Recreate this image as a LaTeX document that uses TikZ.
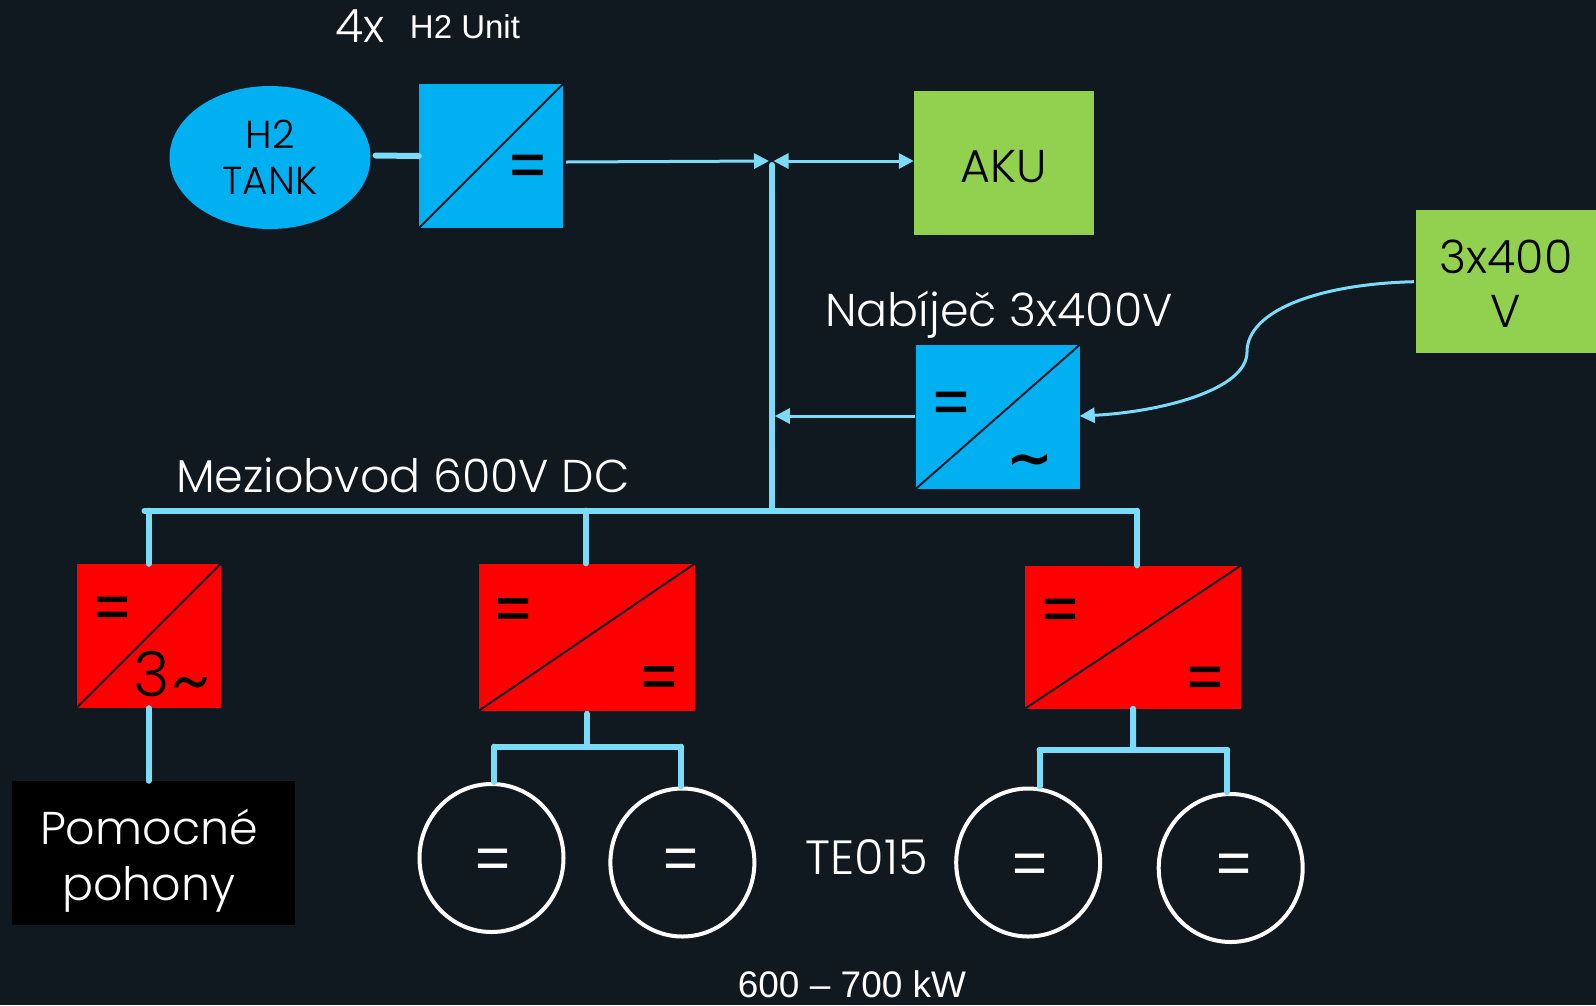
\documentclass[tikz,border=0pt]{standalone}
\usepackage{fontspec}
\setmainfont{Poppins Light}
\newfontfamily\armfont{Liberation Sans}
\newfontfamily\signfont[FakeBold=2]{Liberation Sans}
\newfontfamily\tildefont{DejaVu Sans}
\usetikzlibrary{arrows.meta,shapes.geometric}
\definecolor{bgcol}{HTML}{101920}
\definecolor{wire}{HTML}{7ADCF8}
\definecolor{bluebox}{HTML}{00B0F0}
\definecolor{greenbox}{HTML}{92D050}
\definecolor{diag}{HTML}{0F1A2B}
\newcommand{\fsz}[2]{\fontsize{#1}{#2}\selectfont}
\tikzset{
  sign/.style={inner sep=0pt,font=\signfont\fsz{60}{60},text=black},
  motor/.style={ellipse,draw=white,line width=4pt,minimum width=144pt,minimum height=148pt,inner sep=0pt},
  wsign/.style={inner sep=0pt,font=\armfont\fsz{60}{60},text=white},
  busline/.style={draw=wire,line width=6pt,line cap=round},
  feed/.style={draw=wire,line width=3pt},
  tip/.style={>={Triangle[length=15pt,width=15pt]}}
}
\begin{document}
\begin{tikzpicture}[x=1pt,y=-1pt]
\useasboundingbox (0,0) rectangle (1596,1005);
\fill[bgcol] (0,0) rectangle (1596,1005);
\begin{scope}[every node/.style={white,inner sep=0pt}]
    \node (count) at (360,26) {\fsz{46}{46}4x};
    \node (unit) at (465,27) {\armfont\fsz{33}{33}H2 Unit};
    \node (charger) at (999,315) {\fsz{46}{46}Nabíječ 3x400V};
    \node (link) at (403,475) {\fsz{46}{46}Meziobvod 600V DC};
    \node (te) at (867,857) {\fsz{48}{48}TE015};
    \node (power) at (852,984) {\armfont\fsz{37}{37}600 – 700 kW};
\end{scope}
\begin{scope}[every node/.style={rectangle,inner sep=0pt,align=center,text=black}]
    \node[ellipse,fill=bluebox,minimum width=201pt,minimum height=143pt,font=\fsz{39}{46}] (tank) at (270,157.5) {H2\\TANK};
    \node[fill=bluebox,minimum width=144pt,minimum height=144pt] (convh) at (491,156) {};
    \node[fill=greenbox,minimum width=180pt,minimum height=144pt,font=\fsz{46}{46},text height=38pt,text depth=0pt] (aku) at (1004,163) {AKU};
    \node[fill=greenbox,minimum width=180pt,minimum height=143pt,font=\fsz{46}{54}] (mains) at (1506,281.5) {\rule{0pt}{38pt}3x400\\V};
    \node[fill=bluebox,minimum width=164pt,minimum height=144pt] (convc) at (997.5,417) {};
    \node[fill=red,minimum width=144pt,minimum height=144pt] (conva) at (148.5,636) {};
    \node[fill=red,minimum width=216pt,minimum height=147pt] (convb) at (587,637) {};
    \node[fill=red,minimum width=216pt,minimum height=143pt] (convd) at (1133,637) {};
    \node[fill=black,text=white,minimum width=283pt,minimum height=144pt,font=\fsz{46}{56}] (aux) at (153,853) {\rule{0pt}{50pt}Pomocné\hspace*{8pt}\\pohony\hspace*{8pt}};
\end{scope}
\foreach \b in {convh,convc,conva,convb,convd}
    \draw[diag,line width=2pt] (\b.south west) -- (\b.north east);
\node[sign] (sh) at (527.5,170) {=};
\node[sign] (sc) at (951,407) {=};
\node[inner sep=0pt,font=\tildefont\bfseries\fsz{56}{56}] (tc) at (1030,466) {\textasciitilde};
\node[sign] (sa) at (112,612) {=};
\node[inner sep=0pt,font=\fsz{62}{62}] (ta) at (172,680) {3\hspace{2pt}\raisebox{-12pt}{\fsz{80}{80}\textasciitilde}};
\node[sign] (sb1) at (513,613.5) {=};
\node[sign] (sb2) at (659,681.5) {=};
\node[sign] (sd1) at (1060,614) {=};
\node[sign] (sd2) at (1205,682) {=};
\node[motor] (m1) at (491.5,858) {};
\node[motor] (m2) at (682.4,862.5) {};
\node[motor] (m3) at (1028.2,862.5) {};
\node[motor] (m4) at (1230.7,868) {};
\node[wsign] (s1) at (493,864) {=};
\node[wsign] (s2) at (681,864) {=};
\node[wsign] (s3) at (1030,868.5) {=};
\node[wsign] (s4) at (1234,868.5) {=};
\coordinate (busl) at (144.5,510.7);
\coordinate (busr) at (1137,510.7);
\coordinate (busa) at (148.8,510.7);
\coordinate (busb) at (585.6,510.7);
\coordinate (busc) at (772,510.7);
\coordinate (jtop) at (772,165);
\coordinate (jin) at (769,161);
\coordinate (jout) at (773.5,161);
\coordinate (jc) at (774.8,416);
\coordinate (brb) at (587,746.7);
\coordinate (brbl) at (494.4,746.7);
\coordinate (brbr) at (681,746.7);
\coordinate (brd) at (1133.2,750);
\coordinate (brdl) at (1039.5,750);
\coordinate (brdr) at (1227.3,750);
\begin{scope}[every path/.style={busline}]
    \path (busl) -- (busr);
    \path (busr) -- (busr |- convd.north);
    \path (busa) -- (busa |- conva.north);
    \path (busb) -- (busb |- convb.north);
    \path (busc) -- (jtop);
    \path (conva.south) -- (aux.north -| conva.south);
    \path (tank.east) ++(5,-2) -- (convh.west);
    \path (convb.south) ++(0,3) -- (brb);
    \path (brbl) -- (brbr);
    \path (brbl) -- (m1.north -| brbl);
    \path (brbr) -- (m2.north -| brbr);
    \path (convd.south) -- (brd);
    \path (brdl) -- (brdr);
    \path (brdl) -- (m3.north -| brdl);
    \path (brdr) -- (m4.north -| brdr);
\end{scope}
\begin{scope}[tip]
    \draw[feed,->] (convh.east) ++(3,6) -- (jin);
    \draw[feed,<->] (jout) -- (aku.west |- jout);
    \draw[feed,->] (convc.west |- jc) -- (jc);
    \draw[feed,->] (mains.west) ++(-2,0.2) .. controls (1320,284) and (1247,310) .. (1247,352) .. controls (1247,390) and (1160,412) .. (convc.east |- jc);
\end{scope}
\end{tikzpicture}
\end{document}
